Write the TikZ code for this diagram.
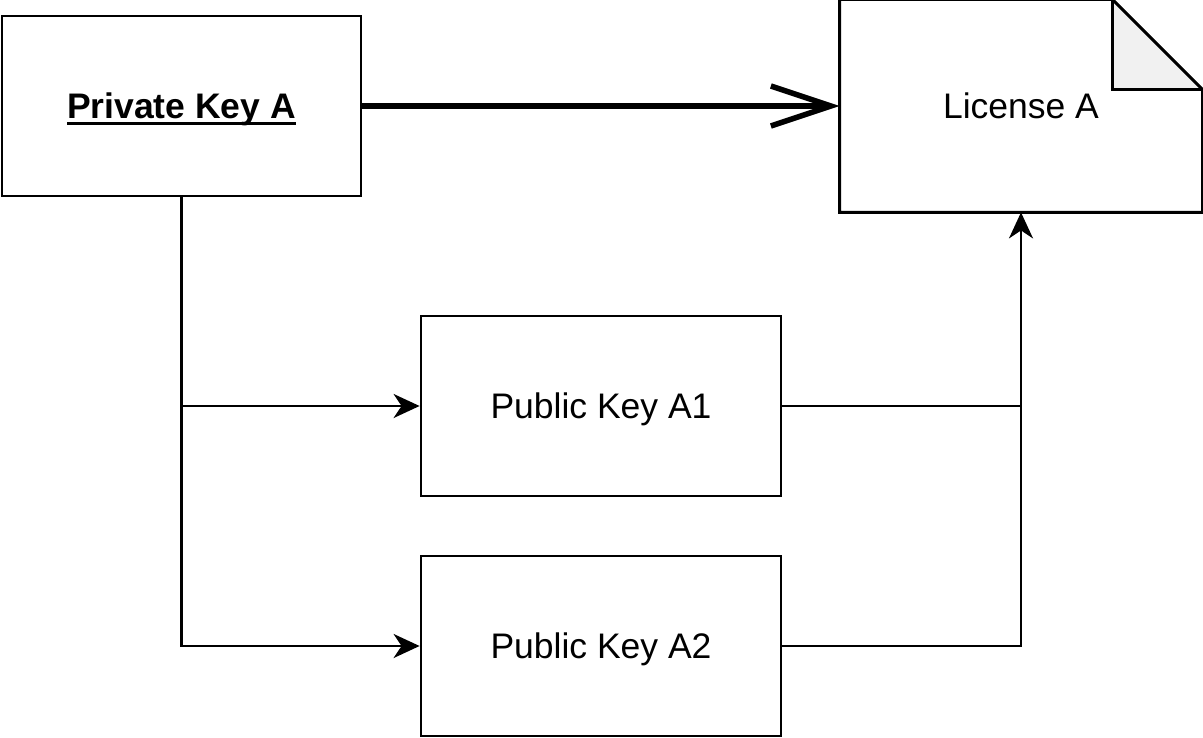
\documentclass[tikz,border=0pt]{standalone}
\usepackage{fontspec}
\setmainfont{Liberation Sans}
\usetikzlibrary{arrows.meta}
\newlength\myulwd
\newcommand\myuline[1]{\settowidth\myulwd{#1}\rlap{\rule[-6.2pt]{\myulwd}{2.7pt}}#1}
\definecolor{foldgray}{HTML}{F1F1F1}
\tikzset{
  boxnode/.style={draw=black, line width=2.8pt, minimum width=359pt, minimum height=180pt, inner sep=0pt,
    text height=25.4pt, text depth=0pt, font=\fontsize{35.5}{43}\selectfont},
  conn/.style={line width=2.7pt, draw=black},
  smallarrow/.style={-{Stealth[length=26pt,width=24pt,inset=8pt]}},
  thickconn/.style={line width=5.5pt, -{Straight Barb[length=60pt,width=40pt,line width=5.5pt]}},
}
\begin{document}
\begin{tikzpicture}[x=1pt,y=-1pt]
\useasboundingbox (0,0) rectangle (1203,738);
\node[boxnode] (pk) at (181.5,106) {\bfseries\myuline{Private Key A}};
\node[boxnode, minimum width=360pt] (a1) at (601,406) {Public Key A1};
\node[boxnode, minimum width=360pt] (a2) at (601,646) {Public Key A2};
\node[boxnode, draw=none, minimum width=360pt, minimum height=210pt] (lic) at (1021,106) {License A};
\draw[line width=2.8pt, line join=miter] (lic.north west) -- ([xshift=-90pt]lic.north east) -- ([yshift=-90pt]lic.north east) -- (lic.south east) -- (lic.south west) -- cycle;
\filldraw[fill=foldgray, line width=2.8pt, line join=miter] ([xshift=-90pt]lic.north east) -- ([xshift=-90pt,yshift=-90pt]lic.north east) -- ([yshift=-90pt]lic.north east) -- cycle;
\draw[thickconn] (pk.east) -- (lic.west);
\draw[conn, smallarrow] (pk.south) |- (a2.west);
\draw[conn, smallarrow] (pk.south |- a1.west) -- (a1.west);
\draw[conn] (a1.east) -- (a1.east -| lic.south);
\draw[conn, smallarrow] (a2.east) -| (lic.south);
\end{tikzpicture}
\end{document}
